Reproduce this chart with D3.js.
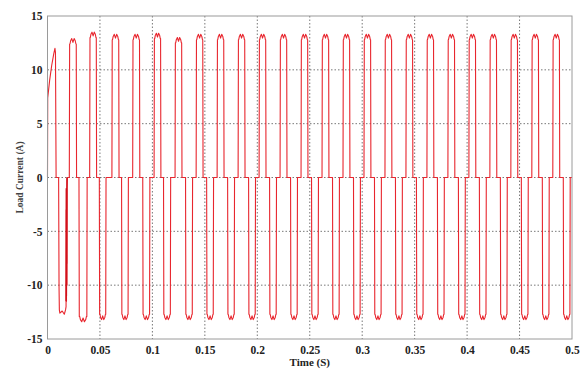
<!DOCTYPE html>
<html><head><meta charset="utf-8">
<script src="https://cdn.jsdelivr.net/npm/d3@7"></script>
<style>
html,body{margin:0;padding:0;background:#fff;}
svg{display:block;}
.tick text{font-family:"Liberation Serif","Times New Roman",serif;font-weight:bold;font-size:11.5px;fill:#222;}
</style></head>
<body>
<svg id="chart" width="587" height="372"></svg>
<script>
// ---- data ----
const xTickValues = [0, 0.05, 0.1, 0.15, 0.2, 0.25, 0.3, 0.35, 0.4, 0.45, 0.5];
const xTickLabels = ["0", "0.05", "0.1", "0.15", "0.2", "0.25", "0.3", "0.35", "0.4", "0.45", "0.5"];
const yTickValues = [-15, -10, -5, 0, 5, 10, 15];
const yTickLabels = ["-15", "-10", "-5", "0", "5", "10", "15"];

// start-up transient (time s, current A)
const transientTime = [0, 0.0002, 0.002, 0.004, 0.006, 0.0071, 0.0076, 0.0082, 0.0106, 0.0110, 0.0113, 0.0118, 0.0140, 0.0160, 0.0172, 0.0177, 0.0179, 0.0181, 0.0183, 0.0185, 0.0187, 0.0190];
const transientCurrent = [0, 7.4, 9.0, 10.4, 11.5, 12.0, 11.6, 0, 0, -10.2, -12.3, -12.6, -12.4, -12.7, -12.3, -12.0, -3, -11.5, -2, -10, -1, 0];
// ringing burst drawn heavier (time s, current A)
const ringTime = [0.0177, 0.0179, 0.0180, 0.0181, 0.0182, 0.0183, 0.0184, 0.0185];
const ringCurrent = [-11.5, -1, -11, -2, -10, -1, -8, 0];

// quasi-square pulses after the transient
const pulseStart = [0.0208, 0.0300, 0.0402, 0.0494, 0.0614, 0.0706, 0.0812, 0.0908, 0.1016, 0.1106, 0.1216, 0.1316,
  0.1417, 0.1517, 0.1617, 0.1717, 0.1817, 0.1917, 0.2017, 0.2117, 0.2217, 0.2317, 0.2417, 0.2517, 0.2617, 0.2717,
  0.2817, 0.2917, 0.3017, 0.3117, 0.3217, 0.3317, 0.3417, 0.3517, 0.3617, 0.3717, 0.3817, 0.3917, 0.4017, 0.4117,
  0.4217, 0.4317, 0.4417, 0.4517, 0.4617, 0.4717, 0.4817, 0.4917];
const pulseEnd = [0.0277, 0.0378, 0.0468, 0.0558, 0.0682, 0.0771, 0.0880, 0.0976, 0.1081, 0.1174, 0.1282, 0.1383,
  0.1483, 0.1583, 0.1683, 0.1783, 0.1883, 0.1983, 0.2083, 0.2183, 0.2283, 0.2383, 0.2483, 0.2583, 0.2683, 0.2783,
  0.2883, 0.2983, 0.3083, 0.3183, 0.3283, 0.3383, 0.3483, 0.3583, 0.3683, 0.3783, 0.3883, 0.3983, 0.4083, 0.4183,
  0.4283, 0.4383, 0.4483, 0.4583, 0.4683, 0.4783, 0.4883, 0.4983];
const pulseLevel = [12.7, -13.2, 13.3, -13.0, 13.1, -13.0, 13.1, -13.0, 13.2, -13.0, 12.8, -13.0,
  13.1, -13.0, 13.1, -13.0, 13.1, -13.0, 13.1, -13.0, 13.1, -13.0, 13.1, -13.0, 13.1, -13.0,
  13.1, -13.0, 13.1, -13.0, 13.1, -13.0, 13.1, -13.0, 13.1, -13.0, 13.1, -13.0, 13.1, -13.0,
  13.1, -13.0, 13.1, -13.0, 13.1, -13.0, 13.1, -13.0];
// ripple seen on each flat top ("M" shape): fraction of pulse, offset magnitude (A)
const rippleFraction = [0.05, 0.15, 0.32, 0.5, 0.68, 0.85, 0.95];
const rippleOffset = [-0.3, 0.0, 0.2, -0.15, 0.2, 0.0, -0.3];

// ---- drawing ----
const W = 587, H = 372;
const margin = {left: 47.5, right: 15, top: 16, bottom: 33};
const x = d3.scaleLinear().domain([0, 0.5]).range([margin.left, W - margin.right]);
const y = d3.scaleLinear().domain([-15, 15]).range([H - margin.bottom, margin.top]);

const svg = d3.select("#chart");

// grid
const grid = svg.append("g");
grid.selectAll("line.v").data(xTickValues.slice(1, -1)).enter().append("line")
  .attr("x1", d => x(d)).attr("x2", d => x(d))
  .attr("y1", y(15)).attr("y2", y(-15))
  .attr("stroke", "#555").attr("stroke-width", 0.8).attr("stroke-dasharray", "1.5,2");
grid.selectAll("line.h").data(yTickValues.slice(1, -1)).enter().append("line")
  .attr("x1", x(0)).attr("x2", x(0.5))
  .attr("y1", d => y(d)).attr("y2", d => y(d))
  .attr("stroke", "#555").attr("stroke-width", 0.8).attr("stroke-dasharray", "1.5,2");

// waveform points
const pts = transientTime.map((t, i) => [t, transientCurrent[i]]);
const edge = 0.0003;
pulseStart.forEach((s, i) => {
  const e = pulseEnd[i], L = pulseLevel[i], sg = Math.sign(L);
  pts.push([s, 0]);
  pts.push([s + edge, L + sg * rippleOffset[0]]);
  rippleFraction.forEach((f, j) => {
    pts.push([s + edge + f * (e - s - 2 * edge), L + sg * rippleOffset[j]]);
  });
  pts.push([e - edge, L + sg * rippleOffset[rippleOffset.length - 1]]);
  pts.push([e, 0]);
});
pts.push([0.5, 0]);

const line = d3.line().x(d => x(d[0])).y(d => y(d[1]));
svg.append("path").datum(pts)
  .attr("d", line).attr("fill", "none")
  .attr("stroke", "#e8262e").attr("stroke-width", 1.1).attr("stroke-linejoin", "round");
svg.append("path").datum(ringTime.map((t, i) => [t, ringCurrent[i]]))
  .attr("d", line).attr("fill", "none")
  .attr("stroke", "#d0101a").attr("stroke-width", 1.4);

// frame
svg.append("rect").attr("x", x(0)).attr("y", y(15))
  .attr("width", x(0.5) - x(0)).attr("height", y(-15) - y(15))
  .attr("fill", "none").attr("stroke", "#9a9a9a").attr("stroke-width", 1);

// axes
const xAxis = d3.axisBottom(x).tickValues(xTickValues).tickFormat((d, i) => xTickLabels[i]).tickSize(0).tickPadding(7);
svg.append("g").attr("transform", `translate(0,${y(-15)})`).call(xAxis).call(g => g.select(".domain").remove());
const yAxis = d3.axisLeft(y).tickValues(yTickValues).tickFormat((d, i) => yTickLabels[i]).tickSize(0).tickPadding(5);
svg.append("g").attr("transform", `translate(${x(0)},0)`).call(yAxis).call(g => g.select(".domain").remove());

// labels
svg.append("text").attr("x", (x(0) + x(0.5)) / 2).attr("y", 366).attr("text-anchor", "middle")
  .style("font-family", "'Liberation Serif','Times New Roman',serif").style("font-weight", "bold").style("font-size", "11px").attr("fill", "#222")
  .text("Time (S)");
svg.append("text").attr("transform", `translate(23,${(y(15) + y(-15)) / 2}) rotate(-90)`).attr("text-anchor", "middle")
  .style("font-family", "'Liberation Serif','Times New Roman',serif").style("font-weight", "bold").style("font-size", "9.5px").attr("fill", "#444")
  .text("Load Current (A)");
</script>
</body></html>
